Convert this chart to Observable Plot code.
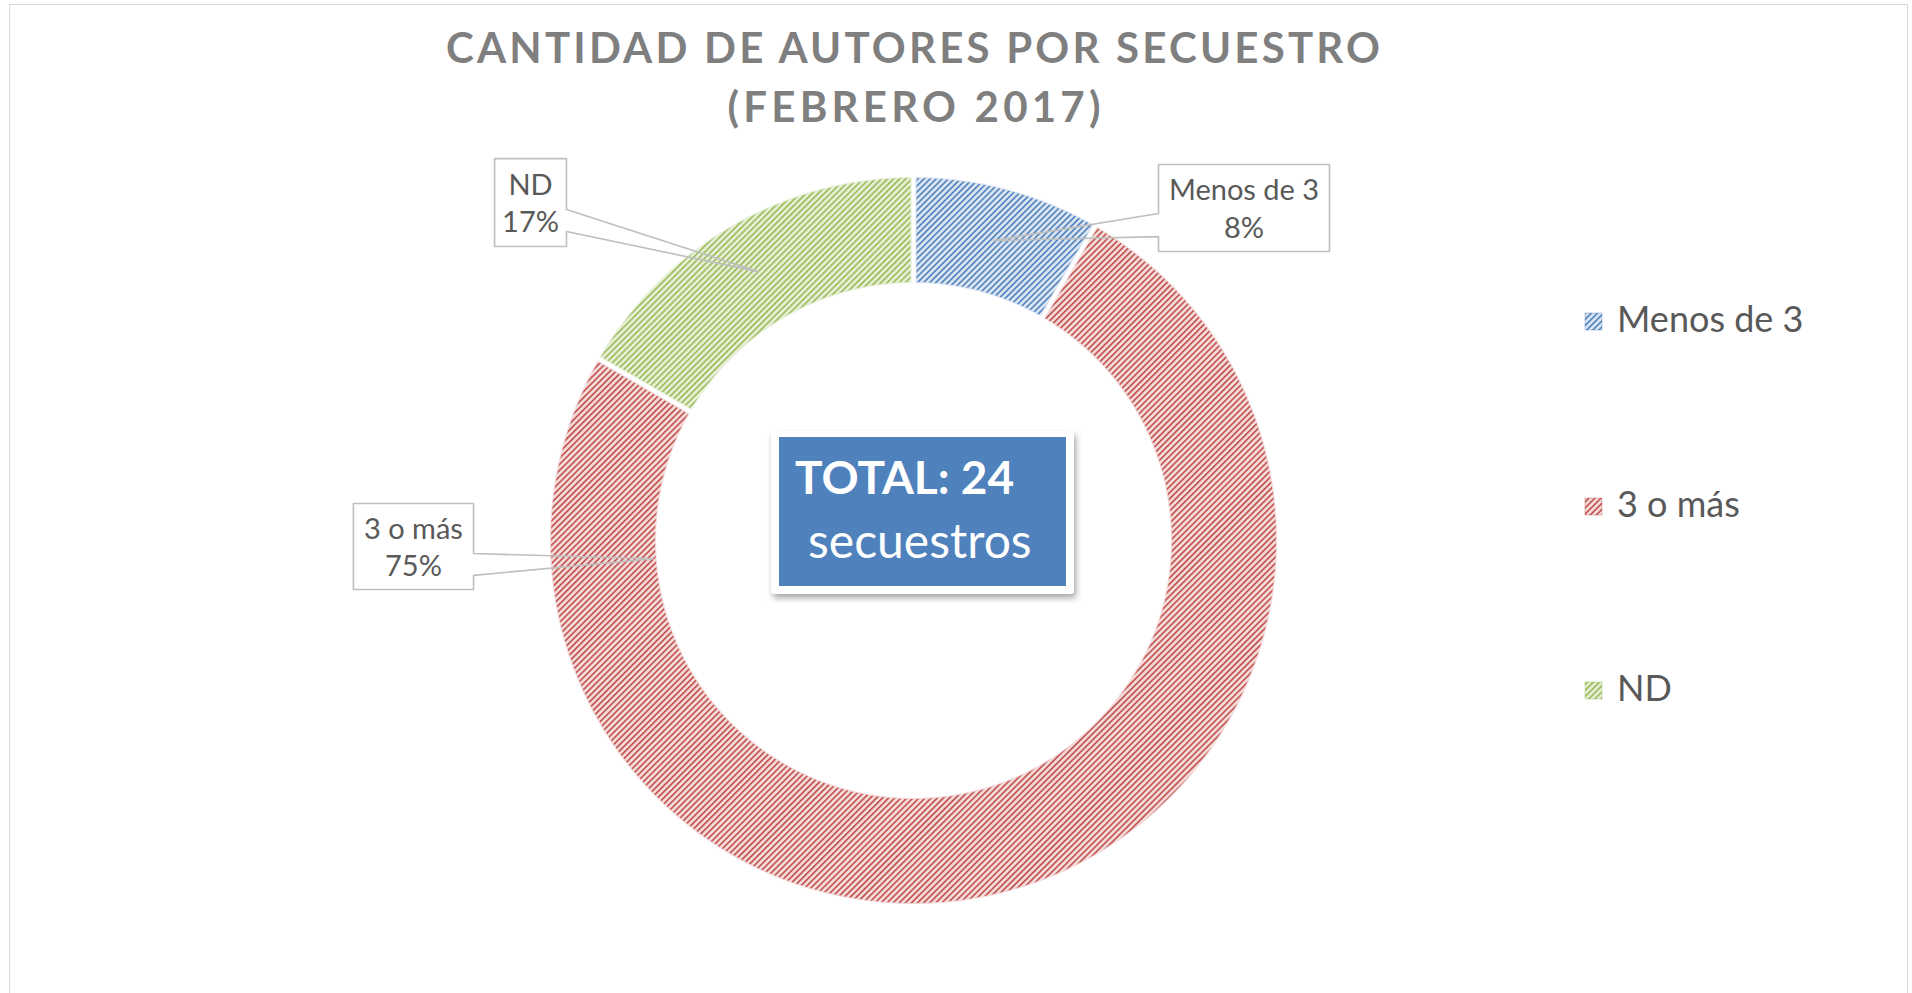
<!DOCTYPE html>
<html>
<head>
<meta charset="utf-8">
<script src="https://cdn.jsdelivr.net/npm/d3@7"></script>
<script src="https://cdn.jsdelivr.net/npm/@observablehq/plot@0.6"></script>
<style>
  html, body { margin: 0; padding: 0; background: #fff; overflow: hidden; width: 1912px; height: 993px; }
  #wrap { position: relative; width: 1912px; height: 993px; font-family: Lato, "Open Sans", sans-serif; }
  #frame { position: absolute; left: 9px; top: 4px; width: 1899px; height: 1010px; border: 1.5px solid #d9d9d9; box-sizing: border-box; }
  #chart { position: absolute; left: 0; top: 0; }
  #overlay { position: absolute; left: 0; top: 0; pointer-events: none; }
  #totalBox { position: absolute; left: 771px; top: 431px; width: 303px; height: 163px; background: #fff; border-radius: 3px;
              box-shadow: 2px 4px 6px rgba(0,0,0,0.35); }
  #totalInner { position: absolute; left: 8px; top: 6px; width: 287px; height: 149px; background: #4f81bd; }
</style>
</head>
<body>
<div id="wrap">
  <div id="frame"></div>
  <div id="chart"></div>
  <div id="totalBox"><div id="totalInner"></div></div>
  <svg id="overlay" width="1912" height="993"></svg>
</div>
<script>
// ---------------- data ----------------
const titleLines = ["CANTIDAD DE AUTORES POR SECUESTRO", "(FEBRERO 2017)"];
const categories = ["Menos de 3", "3 o más", "ND"];
const counts = [2, 18, 4];
const totalWord = "secuestros";

// ---------------- styles / layout ----------------
const patterns = [
  {id: "patBlue",  bg: "#dbe5f2", line: "#4f81bd"},
  {id: "patRed",   bg: "#f5dada", line: "#c0504d"},
  {id: "patGreen", bg: "#e6efd5", line: "#9bbb59"}
];
const innerRatio = 258 / 363;
const gapUnits = 5 / 363;
// callout layout (in the chart's x/y scale units)
const callouts = [
  {box: [0.675, 1.146, 1.036, 0.796], attach: "left",  attachY: [0.901, 0.837], anchorAngle: null, anchorR: null},
  {box: [-1.543, -1.212, 0.102, -0.135], attach: "right", attachY: [-0.036, -0.096], anchorAngle: 266, anchorR: 0.718},
  {box: [-1.154, -0.956, 1.052, 0.810], attach: "right", attachY: [0.912, 0.851], anchorAngle: null, anchorR: null}
];

// ---------------- geometry from data ----------------
const total = d3.sum(counts);
const arcs = d3.pie().sort(null)(counts);
const segPts = [];
arcs.forEach((p, i) => {
  const cat = categories[i];
  const ring = (r, rev) => {
    const pad = gapUnits / 2 / r;
    const a0 = p.startAngle + pad, a1 = p.endAngle - pad;
    const n = Math.max(8, Math.ceil((a1 - a0) / (Math.PI / 360)));
    const ks = d3.range(n + 1);
    if (rev) ks.reverse();
    for (const k of ks) {
      const a = a0 + (a1 - a0) * k / n;
      segPts.push({cat, x: r * Math.sin(a), y: r * Math.cos(a)});
    }
  };
  ring(1, false);
  ring(innerRatio, true);
});

const calloutPts = [];
const labelData = [];
arcs.forEach((p, i) => {
  const c = callouts[i];
  const mid = c.anchorAngle != null ? c.anchorAngle * Math.PI / 180 : (p.startAngle + p.endAngle) / 2;
  const r = c.anchorR != null ? c.anchorR : (1 + innerRatio) / 2;
  const ax = r * Math.sin(mid), ay = r * Math.cos(mid);
  const [x1, x2, yT, yB] = c.box;
  let pts;
  if (c.attach === "left") {
    pts = [[x1, yT], [x2, yT], [x2, yB], [x1, yB], [x1, c.attachY[1]], [ax, ay], [x1, c.attachY[0]]];
  } else {
    pts = [[x1, yT], [x2, yT], [x2, c.attachY[0]], [ax, ay], [x2, c.attachY[1]], [x2, yB], [x1, yB]];
  }
  pts.forEach(([x, y]) => calloutPts.push({cat: categories[i], x, y}));
  labelData.push({
    x: (x1 + x2) / 2, y: (yT + yB) / 2,
    text: categories[i] + "\n" + Math.round(100 * counts[i] / total) + "%"
  });
});

// ---------------- plot ----------------
const marks = [];
categories.forEach((c, i) => {
  marks.push(Plot.line(segPts.filter(d => d.cat === c), {
    x: "x", y: "y", curve: "linear-closed",
    fill: `url(#${patterns[i].id})`, stroke: patterns[i].bg, strokeWidth: 1.2, strokeOpacity: 0.8
  }));
});
categories.forEach((c) => {
  marks.push(Plot.line(calloutPts.filter(d => d.cat === c), {
    x: "x", y: "y", curve: "linear-closed", fill: "none", stroke: "#bfbfbf", strokeWidth: 1.6
  }));
});
marks.push(Plot.text(labelData, {
  x: "x", y: "y", text: "text", fontSize: 29, lineHeight: 1.3, fill: "#595959",
  fontFamily: "Lato, sans-serif", dy: -1
}));

const chart = Plot.plot({
  width: 1912, height: 993,
  marginLeft: 550, marginRight: 636, marginTop: 177, marginBottom: 90,
  x: {domain: [-1, 1], axis: null},
  y: {domain: [-1, 1], axis: null},
  style: {background: "transparent", fontFamily: "Lato, sans-serif", overflow: "visible"},
  marks
});

function addPatterns(defs, suffix) {
  patterns.forEach(p => {
    const s = 4.3;
    const pat = defs.append("pattern").attr("id", p.id + suffix).attr("patternUnits", "userSpaceOnUse")
      .attr("width", s).attr("height", s).attr("patternTransform", "rotate(-45)");
    pat.append("rect").attr("width", s).attr("height", s).attr("fill", p.bg);
    pat.append("rect").attr("y", 0).attr("width", s).attr("height", 1.6).attr("fill", p.line);
  });
}
addPatterns(d3.select(chart).insert("defs", ":first-child"), "");
document.getElementById("chart").appendChild(chart);

// ---------------- overlay texts: title, total, legend ----------------
const ov = d3.select("#overlay");
addPatterns(ov.append("defs"), "L");

ov.append("text").attr("x", 913).attr("y", 63).attr("text-anchor", "middle")
  .attr("textLength", 934).attr("lengthAdjust", "spacing")
  .style("font", "bold 42px Lato, sans-serif").attr("fill", "#7f7f7f").text(titleLines[0]);
ov.append("text").attr("x", 914).attr("y", 122).attr("text-anchor", "middle")
  .attr("textLength", 373).attr("lengthAdjust", "spacing")
  .style("font", "bold 42px Lato, sans-serif").attr("fill", "#7f7f7f").text(titleLines[1]);

ov.append("text").attr("x", 795).attr("y", 494)
  .style("font", "bold 46px Lato, sans-serif").attr("fill", "#fff").text(`TOTAL: ${total}`);
ov.append("text").attr("x", 808).attr("y", 558)
  .style("font", "48px Lato, sans-serif").attr("fill", "#fff").text(totalWord);

const legendY = [332, 517, 701];
categories.forEach((c, i) => {
  ov.append("rect").attr("x", 1585).attr("y", legendY[i] - 19).attr("width", 17).attr("height", 17)
    .attr("fill", `url(#${patterns[i].id}L)`).attr("stroke", patterns[i].line).attr("stroke-width", 0.6).attr("stroke-opacity", 0.6);
  ov.append("text").attr("x", 1617).attr("y", legendY[i])
    .style("font", "36px Lato, sans-serif").attr("fill", "#595959").text(c);
});
</script>
</body>
</html>
